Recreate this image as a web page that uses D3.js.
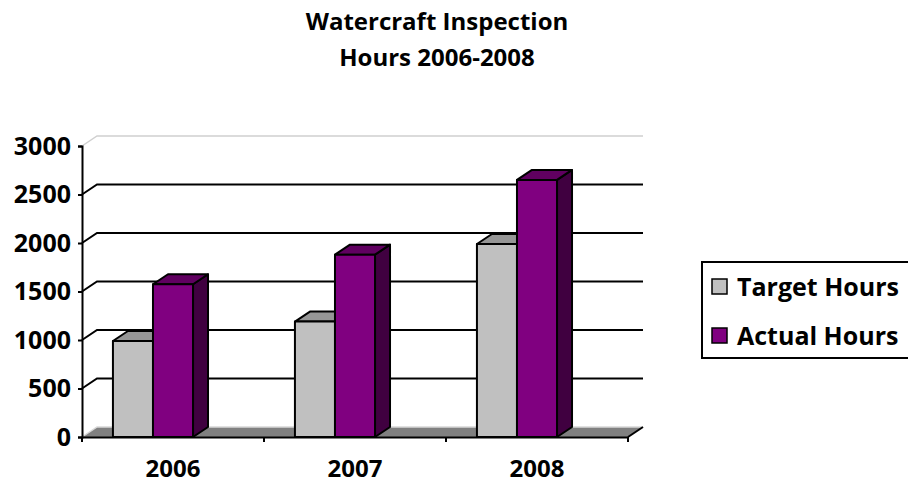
<!DOCTYPE html>
<html>
<head>
<meta charset="utf-8">
<script src="https://cdn.jsdelivr.net/npm/d3@7"></script>
<style>
    body { margin: 0; background: #fff; }
    text { font-family: "Open Sans", sans-serif; font-weight: 700; fill: #000; }
</style>
</head>
<body>
<div id="chart"></div>
<script>
// Data
const years = ['2006', '2007', '2008'];
const seriesNames = ['Target Hours', 'Actual Hours'];
const targetHours = [990, 1190, 1990];
const actualHours = [1575, 1880, 2650];
const yTicks = [0, 500, 1000, 1500, 2000, 2500, 3000];
const titleLines = ['Watercraft Inspection', 'Hours 2006-2008'];

function draw() {
    const dataSet = years.map((year, i) => ({
        year,
        values: [
            { series: seriesNames[0], value: targetHours[i] },
            { series: seriesNames[1], value: actualHours[i] }
        ]
    }));

    // Dimensions
    let dimensions = {
        width: 908,
        height: 484,
        left: 82,
        right: 628,
        top: 146,
        bottom: 437,
        depthX: 15,
        depthY: -10
    };

    const colors = {
        'Target Hours': { front: '#c0c0c0', top: '#969696', side: '#808080' },
        'Actual Hours': { front: '#800080', top: '#600060', side: '#400040' }
    };

    // Scales
    const xScale = d3.scaleBand()
        .domain(years)
        .range([dimensions.left, dimensions.right]);

    const subScale = d3.scaleBand()
        .domain(seriesNames)
        .range([xScale.bandwidth() * 0.17, xScale.bandwidth() * 0.61]);

    const yScale = d3.scaleLinear()
        .domain([0, 3000])
        .range([dimensions.bottom, dimensions.top]);

    const dx = dimensions.depthX;
    const dy = dimensions.depthY;

    // Draw Image
    const svg = d3.select('#chart')
        .append('svg')
        .attr('width', dimensions.width)
        .attr('height', dimensions.height);

    // Title
    svg.append('g')
        .selectAll('text')
        .data(titleLines)
        .join('text')
        .attr('x', 437)
        .attr('y', (d, i) => 30 + i * 36)
        .attr('text-anchor', 'middle')
        .style('font-size', '24px')
        .text(d => d);

    // Back wall gridlines
    const grid = svg.append('g');
    grid.selectAll('path')
        .data(yTicks.filter(t => t > 0))
        .join('path')
        .attr('d', t => {
            const y = yScale(t);
            return `M${dimensions.left},${y}L${dimensions.left + dx},${y + dy}L${dimensions.right + dx},${y + dy}`;
        })
        .attr('fill', 'none')
        .attr('stroke', t => t === 3000 ? '#d0d0d0' : '#000')
        .attr('stroke-width', t => t === 3000 ? 1.5 : 2);

    // Floor
    const y0 = yScale(0);
    svg.append('path')
        .attr('d', `M${dimensions.left},${y0}L${dimensions.right},${y0}L${dimensions.right + dx},${y0 + dy}L${dimensions.left + dx},${y0 + dy}Z`)
        .attr('fill', '#808080');
    svg.append('path')
        .attr('d', `M${dimensions.left},${y0}L${dimensions.left + dx},${y0 + dy}L${dimensions.right + dx},${y0 + dy}`)
        .attr('fill', 'none')
        .attr('stroke', '#d8d8d8')
        .attr('stroke-width', 1.5);
    svg.append('path')
        .attr('d', `M${dimensions.right},${y0}L${dimensions.right + dx},${y0 + dy}`)
        .attr('stroke', '#000')
        .attr('stroke-width', 2);

    // Bars
    const groups = svg.append('g')
        .selectAll('g')
        .data(dataSet)
        .join('g')
        .attr('transform', d => `translate(${xScale(d.year)},0)`);

    const bars = groups.selectAll('g')
        .data(d => d.values)
        .join('g')
        .attr('stroke', '#000')
        .attr('stroke-width', 2)
        .attr('stroke-linejoin', 'round');

    const w = subScale.bandwidth();

    bars.append('path')
        .attr('fill', d => colors[d.series].side)
        .attr('d', d => {
            const x = subScale(d.series) + w;
            const y = yScale(d.value);
            return `M${x},${y}L${x + dx},${y + dy}L${x + dx},${y0 + dy}L${x},${y0}Z`;
        });

    bars.append('path')
        .attr('fill', d => colors[d.series].top)
        .attr('d', d => {
            const x = subScale(d.series);
            const y = yScale(d.value);
            return `M${x},${y}L${x + dx},${y + dy}L${x + w + dx},${y + dy}L${x + w},${y}Z`;
        });

    bars.append('rect')
        .attr('fill', d => colors[d.series].front)
        .attr('x', d => subScale(d.series))
        .attr('y', d => yScale(d.value))
        .attr('width', w)
        .attr('height', d => y0 - yScale(d.value));

    // Axes
    const yAxis = d3.axisLeft(yScale)
        .tickValues(yTicks)
        .tickFormat(d3.format('d'))
        .tickSize(4)
        .tickPadding(7);

    const yAxisGroup = svg.append('g')
        .attr('transform', `translate(${dimensions.left},0)`)
        .call(yAxis);
    yAxisGroup.select('.domain').attr('stroke-width', 2);
    yAxisGroup.selectAll('.tick line').attr('stroke-width', 2);
    yAxisGroup.selectAll('.tick text')
        .attr('font-size', null)
        .style('font-size', '25px')
        .attr('font-family', null);

    const xAxis = d3.axisBottom(xScale)
        .tickSize(0)
        .tickPadding(23);

    const xAxisGroup = svg.append('g')
        .attr('transform', `translate(0,${y0})`)
        .call(xAxis);
    xAxisGroup.select('.domain').attr('stroke-width', 2);
    xAxisGroup.selectAll('.tick text')
        .attr('font-size', null)
        .style('font-size', '24px')
        .attr('font-family', null);

    // category separators
    xAxisGroup.append('g')
        .selectAll('line')
        .data(years.map(y => xScale(y)).concat([dimensions.right]))
        .join('line')
        .attr('x1', d => d)
        .attr('x2', d => d)
        .attr('y1', 0)
        .attr('y2', 5)
        .attr('stroke', '#000')
        .attr('stroke-width', 2);

    // Legend
    const legend = svg.append('g')
        .attr('transform', 'translate(702,262)');

    legend.append('rect')
        .attr('width', 220)
        .attr('height', 96)
        .attr('fill', '#fff')
        .attr('stroke', '#000')
        .attr('stroke-width', 2);

    const items = legend.selectAll('g')
        .data(seriesNames)
        .join('g')
        .attr('transform', (d, i) => `translate(10,${17 + i * 49})`);

    items.append('rect')
        .attr('width', 15)
        .attr('height', 15)
        .attr('fill', d => colors[d].front)
        .attr('stroke', '#000')
        .attr('stroke-width', 1.5);

    items.append('text')
        .attr('x', 25)
        .attr('y', 17)
        .style('font-size', '25px')
        .text(d => d);
}

draw();
</script>
</body>
</html>
